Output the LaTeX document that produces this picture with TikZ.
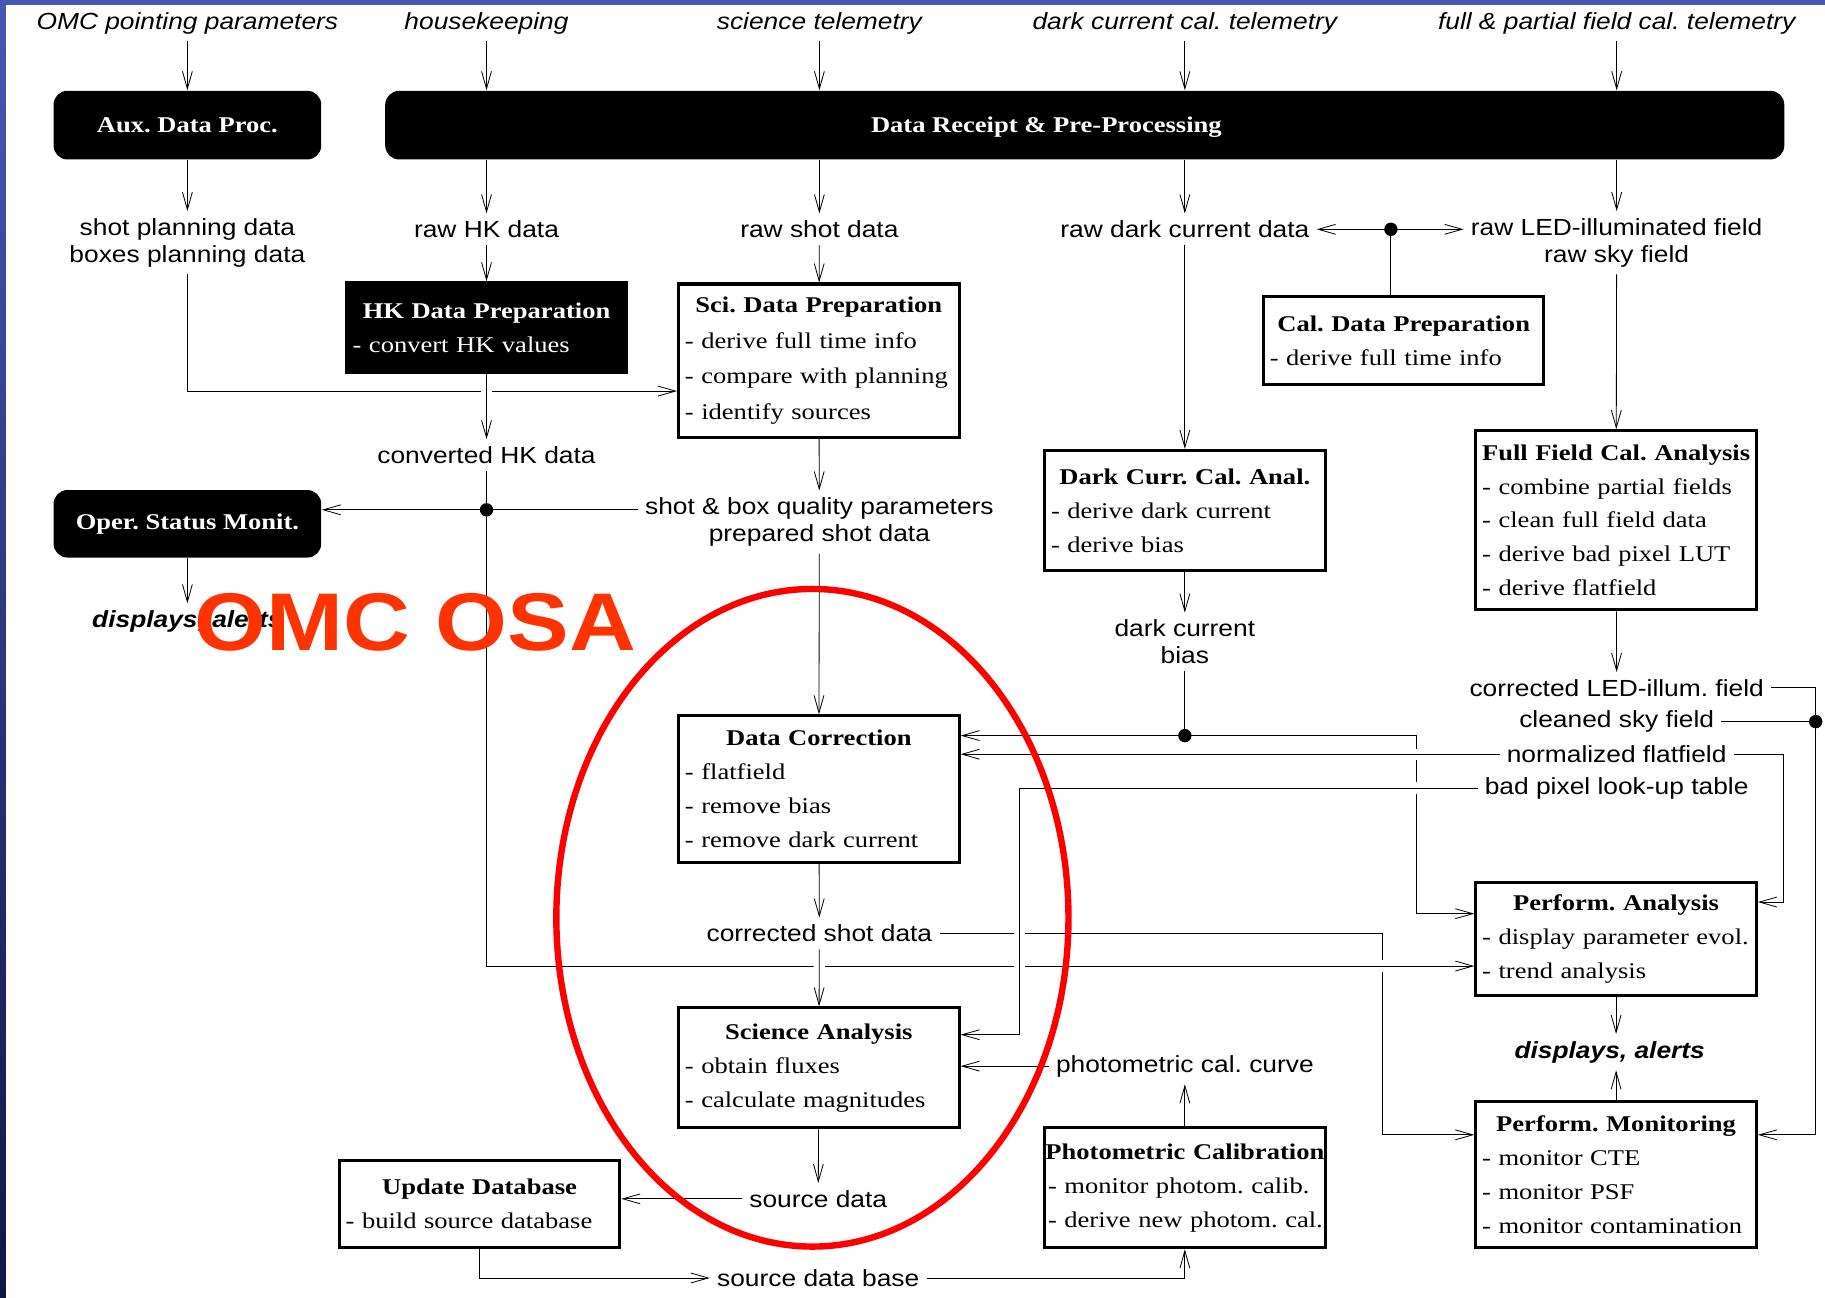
\documentclass[tikz,border=0pt]{standalone}
\usepackage{fontspec}
\setmainfont{Liberation Serif}[FakeStretch=1.18]
\setsansfont{Liberation Sans}[FakeStretch=1.13]
\usetikzlibrary{arrows.meta,calc}
\definecolor{osared}{RGB}{255,51,0}
\definecolor{frameblue}{RGB}{70,88,180}
\definecolor{framenavy}{RGB}{16,22,70}
\pgfdeclarelayer{bg}
\pgfsetlayers{bg,main}
\newcommand{\btitle}[1]{\makebox[\linewidth][c]{\bfseries #1}}
\frenchspacing

\begin{document}
\begin{tikzpicture}[x=0.2mm,y=-0.2mm,line width=0.5pt,
      >={Straight Barb[length=3mm,width=1.7mm]},
      lbl/.style={font=\sffamily\fontsize{11.4}{13.1}\selectfont,align=center},
      tele/.style={font=\sffamily\itshape\fontsize{11.4}{13.1}\selectfont},
      alrt/.style={font=\sffamily\bfseries\itshape\fontsize{11.4}{13.1}\selectfont},
      pbox/.style={draw,line width=1.5pt,fill=white,text width=46mm,align=left,
        inner xsep=1.1mm,font=\fontsize{11}{16.6}\selectfont},
      hbox/.style={pbox,fill=black,text=white},
      rbox/.style={fill=black,rounded corners=2.4mm,text=white,minimum width=46mm,
        font=\bfseries\fontsize{11}{13}\selectfont},
      over/.style={preaction={draw=white,line width=5.5pt,-}}]
    \useasboundingbox (0,0) rectangle (1568,1115);
    % --- telemetry inputs ---
    \node[tele] (omcpt) at (161,20) {OMC pointing parameters};
    \node[tele] (hk) at (418,20) {housekeeping};
    \node[tele] (scitm) at (704,20) {science telemetry};
    \node[tele] (dctm) at (1018,20) {dark current cal. telemetry};
    \node[tele] (fftm) at (1389,20) {full \& partial field cal. telemetry};
    \node[rbox,minimum height=11.8mm] (aux) at (161,107.5) {Aux. Data Proc.};
    \node[rbox,minimum width=240.4mm,minimum height=11.8mm] (drp) at (932,107.5) {};
    \node[text=white,font=\bfseries\fontsize{11}{13}\selectfont] (drptext) at (899,109.5) {Data Receipt \& Pre-Processing};
    % --- raw data ---
    \node[lbl] (plan) at (161,208.5) {shot planning data\\boxes planning data};
    \node[lbl] (rawhk) at (418,197) {raw HK data};
    \node[lbl] (rawshot) at (704,197) {raw shot data};
    \node[lbl] (rawdark) at (1018,197) {raw dark current data};
    \node[lbl] (rawfield) at (1389,208.5) {raw LED-illuminated field\\raw sky field};
    \node[hbox,minimum height=15.4mm] (hkprep) at (418,281.5) {\btitle{HK Data Preparation}\\- convert HK values};
    \node[pbox,minimum height=26.4mm,font=\fontsize{11}{17.4}\selectfont] (sciprep) at (703.5,310) {\btitle{Sci. Data Preparation}\\- derive full time info\\- compare with planning\\- identify sources};
    \node[pbox,minimum height=15mm] (calprep) at (1206,292.5) {\btitle{Cal. Data Preparation}\\- derive full time info};
    % --- status monitoring ---
    \node[lbl] (convhk) at (418,391) {converted HK data};
    \node[rbox,minimum height=11.6mm] (opmon) at (161,450) {Oper. Status Monit.};
    \node[alrt] (alerts1) at (161,534) {displays, alerts};
    \node[lbl] (quality) at (704,448.5) {shot \& box quality parameters\\prepared shot data};
    % --- calibration ---
    \node[pbox,minimum height=20.6mm] (darkcal) at (1018,438.5) {\btitle{Dark Curr. Cal. Anal.}\\- derive dark current\\- derive bias};
    \node[lbl] (darkbias) at (1018,551.5) {dark current\\bias};
    \node[pbox,minimum height=30.8mm] (ffcal) at (1388.5,447) {\btitle{Full Field Cal. Analysis}\\- combine partial fields\\- clean full field data\\- derive bad pixel LUT\\- derive flatfield};
    \node[lbl] (ledcor) at (1389,591) {corrected LED-illum. field};
    \node[lbl] (skyclean) at (1389,620) {cleaned sky field};
    \node[lbl] (flatnorm) at (1389,648) {normalized flatfield};
    \node[lbl] (badpix) at (1389,677) {bad pixel look-up table};
    % --- science chain ---
    \node[pbox,minimum height=25.2mm] (datacor) at (703.5,678) {\btitle{Data Correction}\\- flatfield\\- remove bias\\- remove dark current};
    \node[lbl] (corshot) at (704,802) {corrected shot data};
    \node[pbox,minimum height=20.6mm] (scian) at (703.5,917.5) {\btitle{Science Analysis}\\- obtain fluxes\\- calculate magnitudes};
    \node[lbl] (srcdata) at (703,1030) {source data};
    \node[lbl] (srcbase) at (703,1098) {source data base};
    \node[pbox,minimum height=15mm] (updb) at (412,1034.5) {\btitle{Update Database}\\- build source database};
    \node[lbl] (photcurve) at (1018,916) {photometric cal. curve};
    \node[pbox,minimum height=20.6mm,text width=47mm,inner xsep=0.6mm] (photcal) at (1018,1020.5) {\btitle{Photometric Calibration}\\\mbox{- monitor photom. calib.}\\\mbox{- derive new photom. cal.}};
    % --- performance ---
    \node[pbox,minimum height=19.4mm] (perfan) at (1388.5,806.5) {\btitle{Perform. Analysis}\\- display parameter evol.\\- trend analysis};
    \node[alrt] (alerts2) at (1383,904) {displays, alerts};
    \node[pbox,minimum height=25.2mm] (perfmon) at (1388.5,1009) {\btitle{Perform. Monitoring}\\- monitor CTE\\- monitor PSF\\- monitor contamination};
    % junctions and bends
    \coordinate (caljn) at (1195,197);
    \coordinate (hkjn) at (418,438);
    \coordinate (hkbend) at (418,830);
    \coordinate (dcjn) at (1018,632);
    \coordinate (dcbend) at (1217,785);
    \coordinate (csbend) at (1188,975);
    \coordinate (skyjn) at (1560,620);
    \coordinate (skybend) at (1560,975);
    \coordinate (flbend) at (1532,775);
    \coordinate (bpbend) at (876,889);
    \begin{pgfonlayer}{bg}
    % frame
    \fill[white] (0,0) rectangle (1568,1115);
    \shade[top color=frameblue,bottom color=framenavy] (0,0) rectangle (5,1115);
    \fill[frameblue] (0,0) rectangle (1568,4);
    % inputs
    \draw[->] (omcpt) -- (aux);
    \foreach \n in {hk,scitm,dctm,fftm} \draw[->] (\n) -- (\n |- drp.north);
    \draw[->] (aux) -- (plan);
    \foreach \n in {rawhk,rawshot,rawdark,rawfield} \draw[->] (\n |- drp.south) -- (\n);
    \draw[->] (rawhk) -- (hkprep);
    \draw[->] (rawshot) -- (sciprep);
    \draw[->] (rawdark) -- (darkcal);
    \draw[->] (rawfield) -- (ffcal);
    \draw[->] (plan) |- (sciprep.west |- 0,336);
    \draw (caljn) -- (caljn |- calprep.north);
    \draw[->] (caljn) -- (rawdark);
    \draw[->] (caljn) -- (rawfield.west |- caljn);
    \fill (caljn) circle (1.15mm);
    % lines passing under
    \draw[->] (darkcal) -- (darkbias);
    \draw (darkbias) -- (dcjn);
    \draw[->] (dcjn) -- (datacor.east |- dcjn);
    \draw[->] (dcjn) -| (dcbend) -- (perfan.west |- dcbend);
    \fill (dcjn) circle (1.15mm);
    \draw[->] (corshot) -| (csbend) -- (perfmon.west |- csbend);
    % HK line
    \draw[->,over] (convhk) -- (hkjn) -- (hkbend) -- (perfan.west |- hkbend);
    \draw[->,over] (hkprep) -- (convhk);
    \draw[->] (sciprep) -- (quality);
    \draw[->] (quality.west |- hkjn) -- (opmon.east |- hkjn);
    \fill (hkjn) circle (1.15mm);
    \draw[->] (opmon) -- (alerts1);
    % full field outputs
    \draw[->] (ffcal) -- (ledcor);
    \draw (ledcor) -| (skyjn);
    \draw (skyclean) -- (skyjn);
    \draw[->] (skyjn) -- (skybend) -- (perfmon.east |- skybend);
    \fill (skyjn) circle (1.15mm);
    \draw[->] (flatnorm) -| (flbend) -- (perfan.east |- flbend);
    \draw[->,over] (flatnorm) -- (datacor.east |- flatnorm);
    \draw[->,over] (badpix) -| (bpbend) -- (scian.east |- bpbend);
    % science chain
    \draw[->] (quality) -- (datacor);
    \draw[->] (datacor) -- (corshot);
    \draw[->,over] (corshot) -- (scian);
    \draw[->] (scian) -- (srcdata);
    \draw[->] (srcdata) -- (updb.east |- srcdata);
    \draw[->] (updb) |- (srcbase);
    \draw[->] (srcbase) -| (photcal);
    \draw[->] (photcal) -- (photcurve);
    \draw[->] (photcurve) -- (scian.east |- photcurve);
    \draw[->] (perfan) -- (perfan |- alerts2.north);
    \draw[->] (perfmon) -- (perfmon |- alerts2.south);
    \end{pgfonlayer}
    % marking
    \draw[red,line width=1.1mm] (698,788.5) ellipse [x radius=44mm,y radius=56.5mm];
    \node[text=osared,font=\sffamily\bfseries\fontsize{40}{40}\selectfont] (osa) at (357,535) {OMC OSA};
\end{tikzpicture}
\end{document}
